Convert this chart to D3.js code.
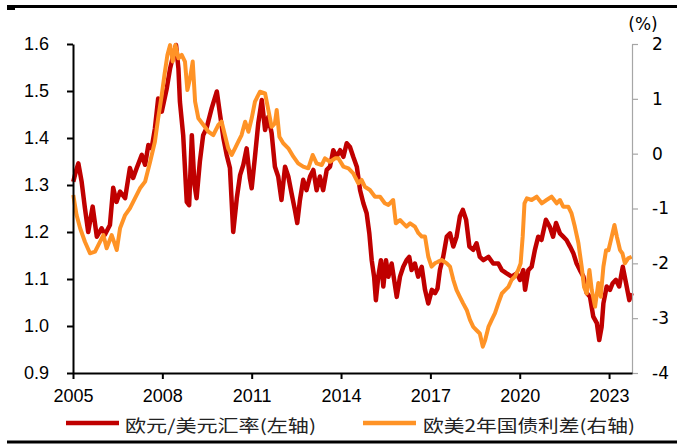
<!DOCTYPE html>
<html>
<head>
<meta charset="utf-8">
<script src="https://cdn.jsdelivr.net/npm/d3@7"></script>
<style>
  html, body { margin: 0; padding: 0; background: #fff; }
  svg { display: block; }
</style>
</head>
<body>
<svg id="chart" width="693" height="444"></svg>
<script>
// ---- data ----
const xTickYears = [2005, 2008, 2011, 2014, 2017, 2020, 2023];
const leftTicks = [0.9, 1.0, 1.1, 1.2, 1.3, 1.4, 1.5, 1.6];
const rightTicks = [-4, -3, -2, -1, 0, 1, 2];
const seriesNames = ["欧元/美元汇率(左轴)", "欧美2年国债利差(右轴)"];

const eurusdDates = [2005.01,2005.10,2005.18,2005.29,2005.40,2005.51,2005.66,2005.80,2005.96,2006.07,2006.24,2006.35,2006.46,2006.58,2006.75,2006.91,2007.02,2007.14,2007.31,2007.42,2007.53,2007.64,2007.75,2007.86,2007.98,2008.15,2008.26,2008.37,2008.46,2008.54,2008.59,2008.70,2008.82,2008.90,2008.99,2009.08,2009.15,2009.26,2009.37,2009.48,2009.66,2009.83,2009.94,2010.05,2010.16,2010.27,2010.38,2010.50,2010.61,2010.72,2010.83,2010.94,2011.00,2011.11,2011.22,2011.34,2011.45,2011.56,2011.67,2011.78,2011.89,2012.00,2012.12,2012.23,2012.34,2012.45,2012.53,2012.62,2012.73,2012.84,2012.96,2013.07,2013.18,2013.29,2013.40,2013.52,2013.63,2013.74,2013.85,2013.97,2014.08,2014.19,2014.30,2014.41,2014.53,2014.64,2014.75,2014.86,2014.95,2015.03,2015.11,2015.17,2015.25,2015.34,2015.42,2015.51,2015.59,2015.70,2015.87,2015.98,2016.09,2016.20,2016.29,2016.37,2016.48,2016.59,2016.71,2016.82,2016.93,2017.05,2017.16,2017.24,2017.32,2017.43,2017.55,2017.66,2017.77,2017.88,2017.99,2018.09,2018.20,2018.31,2018.44,2018.55,2018.66,2018.78,2018.95,2019.11,2019.28,2019.40,2019.56,2019.73,2019.90,2020.01,2020.12,2020.18,2020.29,2020.40,2020.51,2020.62,2020.73,2020.88,2021.01,2021.12,2021.22,2021.35,2021.46,2021.57,2021.69,2021.80,2021.91,2022.02,2022.14,2022.25,2022.36,2022.47,2022.59,2022.67,2022.75,2022.81,2022.92,2023.03,2023.12,2023.23,2023.34,2023.46,2023.57,2023.68,2023.76];
const eurusdValues = [1.307,1.33,1.346,1.307,1.251,1.20,1.254,1.19,1.208,1.194,1.215,1.294,1.264,1.286,1.272,1.336,1.315,1.336,1.364,1.343,1.385,1.378,1.42,1.484,1.456,1.506,1.548,1.577,1.598,1.548,1.477,1.406,1.264,1.257,1.406,1.30,1.272,1.35,1.406,1.42,1.464,1.499,1.449,1.40,1.364,1.336,1.20,1.272,1.321,1.343,1.378,1.314,1.293,1.36,1.431,1.481,1.417,1.445,1.41,1.339,1.318,1.268,1.339,1.318,1.282,1.247,1.219,1.268,1.311,1.289,1.318,1.332,1.289,1.318,1.289,1.332,1.339,1.374,1.36,1.374,1.36,1.389,1.381,1.36,1.339,1.289,1.261,1.24,1.197,1.14,1.105,1.055,1.105,1.14,1.084,1.14,1.105,1.133,1.062,1.105,1.126,1.14,1.147,1.119,1.133,1.105,1.126,1.077,1.048,1.077,1.07,1.08,1.119,1.147,1.19,1.197,1.169,1.19,1.233,1.247,1.226,1.169,1.162,1.176,1.147,1.14,1.147,1.133,1.133,1.119,1.112,1.105,1.112,1.098,1.119,1.077,1.119,1.126,1.162,1.19,1.183,1.226,1.211,1.19,1.219,1.197,1.19,1.183,1.169,1.155,1.133,1.119,1.105,1.07,1.062,1.02,1.006,0.97,0.998,1.048,1.084,1.077,1.091,1.098,1.084,1.126,1.091,1.055,1.07];

const spreadDates = [2005.01,2005.12,2005.24,2005.40,2005.57,2005.74,2005.85,2006.02,2006.13,2006.30,2006.47,2006.58,2006.75,2006.91,2007.08,2007.25,2007.42,2007.59,2007.75,2007.86,2007.98,2008.07,2008.17,2008.26,2008.35,2008.44,2008.54,2008.65,2008.76,2008.84,2008.93,2009.02,2009.10,2009.21,2009.38,2009.55,2009.71,2009.88,2009.99,2010.10,2010.21,2010.33,2010.44,2010.55,2010.66,2010.78,2010.89,2011.00,2011.11,2011.28,2011.45,2011.56,2011.67,2011.78,2011.84,2011.93,2012.06,2012.23,2012.40,2012.56,2012.73,2012.90,2013.05,2013.18,2013.35,2013.46,2013.63,2013.80,2013.91,2014.08,2014.25,2014.41,2014.58,2014.69,2014.80,2014.97,2015.14,2015.31,2015.47,2015.59,2015.75,2015.84,2015.98,2016.09,2016.20,2016.32,2016.48,2016.60,2016.71,2016.82,2016.93,2017.04,2017.15,2017.26,2017.38,2017.55,2017.66,2017.77,2017.88,2017.99,2018.10,2018.22,2018.33,2018.44,2018.55,2018.66,2018.76,2018.84,2018.95,2019.06,2019.17,2019.28,2019.40,2019.51,2019.62,2019.73,2019.84,2019.95,2020.03,2020.10,2020.16,2020.24,2020.40,2020.57,2020.74,2020.90,2021.07,2021.24,2021.35,2021.46,2021.63,2021.74,2021.85,2021.97,2022.08,2022.16,2022.25,2022.34,2022.42,2022.53,2022.64,2022.72,2022.81,2022.90,2022.98,2023.09,2023.18,2023.26,2023.37,2023.45,2023.53,2023.64,2023.76];
const spreadValues = [-0.754,-1.12,-1.36,-1.606,-1.817,-1.788,-1.666,-1.484,-1.726,-1.484,-1.757,-1.36,-1.12,-0.997,-0.815,-0.632,-0.51,-0.147,0.218,0.645,1.07,1.435,1.8,1.98,1.68,1.98,1.74,1.80,1.68,1.16,1.375,1.68,0.95,0.645,0.523,0.40,0.34,0.523,0.583,0.34,0.098,-0.024,0.098,0.218,0.34,0.583,0.40,0.645,0.95,1.13,1.10,0.796,0.49,0.553,0.796,0.31,0.19,0.098,-0.055,-0.176,-0.237,-0.267,-0.024,-0.176,-0.207,-0.085,-0.147,-0.085,-0.085,-0.237,-0.267,-0.358,-0.54,-0.48,-0.603,-0.663,-0.785,-0.785,-0.905,-0.936,-0.845,-1.27,-1.21,-1.27,-1.33,-1.27,-1.33,-1.45,-1.51,-1.51,-1.88,-2.06,-2.0,-1.97,-1.94,-2.0,-2.06,-2.30,-2.49,-2.61,-2.73,-2.85,-3.03,-3.16,-3.22,-3.28,-3.52,-3.40,-3.16,-3.03,-2.91,-2.73,-2.55,-2.49,-2.43,-2.30,-2.24,-2.12,-2.0,-1.51,-0.905,-0.815,-0.845,-0.785,-0.905,-0.845,-0.785,-0.905,-0.845,-0.967,-0.967,-1.09,-1.33,-1.63,-2.06,-2.43,-2.55,-2.12,-2.49,-2.79,-2.36,-2.61,-2.06,-1.76,-1.76,-1.51,-1.30,-1.51,-1.76,-1.82,-2.0,-1.91,-1.88];

// ---- layout ----
const svg = d3.select("#chart");
const plot = { left: 73, right: 632, top: 44, bottom: 373 };
const RED = "#C00000", ORANGE = "#FF9326";

const x = d3.scaleLinear().domain([2005, 2023.77]).range([plot.left, plot.right]);
const yL = d3.scaleLinear().domain([0.9, 1.6]).range([plot.bottom, plot.top]);
const yR = d3.scaleLinear().domain([-4, 2]).range([plot.bottom, plot.top]);

// frame lines
svg.append("line").attr("x1", 7).attr("x2", 677).attr("y1", 6.5).attr("y2", 6.5)
  .attr("stroke", "#000").attr("stroke-width", 3);
svg.append("rect").attr("x", 7).attr("y", 7).attr("width", 8).attr("height", 3).attr("fill", "#000");
svg.append("line").attr("x1", 7).attr("x2", 677).attr("y1", 442).attr("y2", 442)
  .attr("stroke", "#000").attr("stroke-width", 3);

// lines
const redData = eurusdDates.map((d, i) => [d, eurusdValues[i]]);
const orangeData = spreadDates.map((d, i) => [d, spreadValues[i]]);

svg.append("path").datum(redData)
  .attr("fill", "none").attr("stroke", RED).attr("stroke-width", 4.5)
  .attr("stroke-linejoin", "round")
  .attr("d", d3.line().x(d => x(d[0])).y(d => yL(d[1])));

svg.append("path").datum(orangeData)
  .attr("fill", "none").attr("stroke", ORANGE).attr("stroke-width", 4)
  .attr("stroke-linejoin", "round")
  .attr("d", d3.line().x(d => x(d[0])).y(d => yR(d[1])));

// axes
const axisFont = "'Liberation Sans', Arial, sans-serif";

const gL = svg.append("g").attr("transform", `translate(${plot.left},0)`)
  .call(d3.axisLeft(yL).tickValues(leftTicks).tickFormat(d3.format(".1f"))
    .tickSize(6).tickSizeOuter(0).tickPadding(18));
gL.select(".domain").attr("stroke", "#000").attr("stroke-width", 2);
gL.selectAll(".tick line").attr("stroke", "#000").attr("stroke-width", 2);
gL.selectAll("text").attr("font-family", axisFont).attr("font-size", 18).attr("fill", "#000");

const gR = svg.append("g").attr("transform", `translate(${plot.right},0)`)
  .call(d3.axisRight(yR).tickValues(rightTicks).tickFormat(d3.format("d"))
    .tickSize(6).tickSizeOuter(0).tickPadding(14));
gR.select(".domain").attr("stroke", "#A6A6A6").attr("stroke-width", 1.2);
gR.selectAll(".tick line").attr("stroke", "#A6A6A6").attr("stroke-width", 1.2);
gR.selectAll("text").attr("font-family", "'DejaVu Sans', sans-serif").attr("font-size", 17)
  .attr("fill", "#000").text(d => d < 0 ? "-" + Math.abs(d) : String(d));

const gB = svg.append("g").attr("transform", `translate(0,${plot.bottom})`)
  .call(d3.axisBottom(x).tickValues(xTickYears).tickFormat(d3.format("d"))
    .tickSize(6).tickSizeOuter(0).tickPadding(10));
gB.select(".domain").attr("stroke", "#000").attr("stroke-width", 2);
gB.selectAll(".tick line").attr("stroke", "#000").attr("stroke-width", 2);
gB.selectAll("text").attr("font-family", axisFont).attr("font-size", 18).attr("fill", "#000");

// unit label
svg.append("text").attr("x", 643).attr("y", 24).attr("text-anchor", "middle")
  .attr("dominant-baseline", "central")
  .attr("font-family", "'DejaVu Sans', sans-serif").attr("font-size", 17).text("(%)");

// legend
const legend = [
  { name: seriesNames[0], color: RED, x1: 66, x2: 119, tx: 125, tw: 191 },
  { name: seriesNames[1], color: ORANGE, x1: 363, x2: 416, tx: 423, tw: 212 }
];
const lg = svg.append("g");
legend.forEach(l => {
  lg.append("line").attr("x1", l.x1).attr("x2", l.x2).attr("y1", 423).attr("y2", 423)
    .attr("stroke", l.color).attr("stroke-width", 4.5);
  lg.append("text").attr("x", l.tx).attr("y", 424).attr("dominant-baseline", "central")
    .attr("font-family", "'Noto Sans CJK SC', sans-serif").attr("font-size", 17)
    .attr("textLength", l.tw).attr("lengthAdjust", "spacingAndGlyphs")
    .attr("fill", "#222").text(l.name);
});
</script>
</body>
</html>
